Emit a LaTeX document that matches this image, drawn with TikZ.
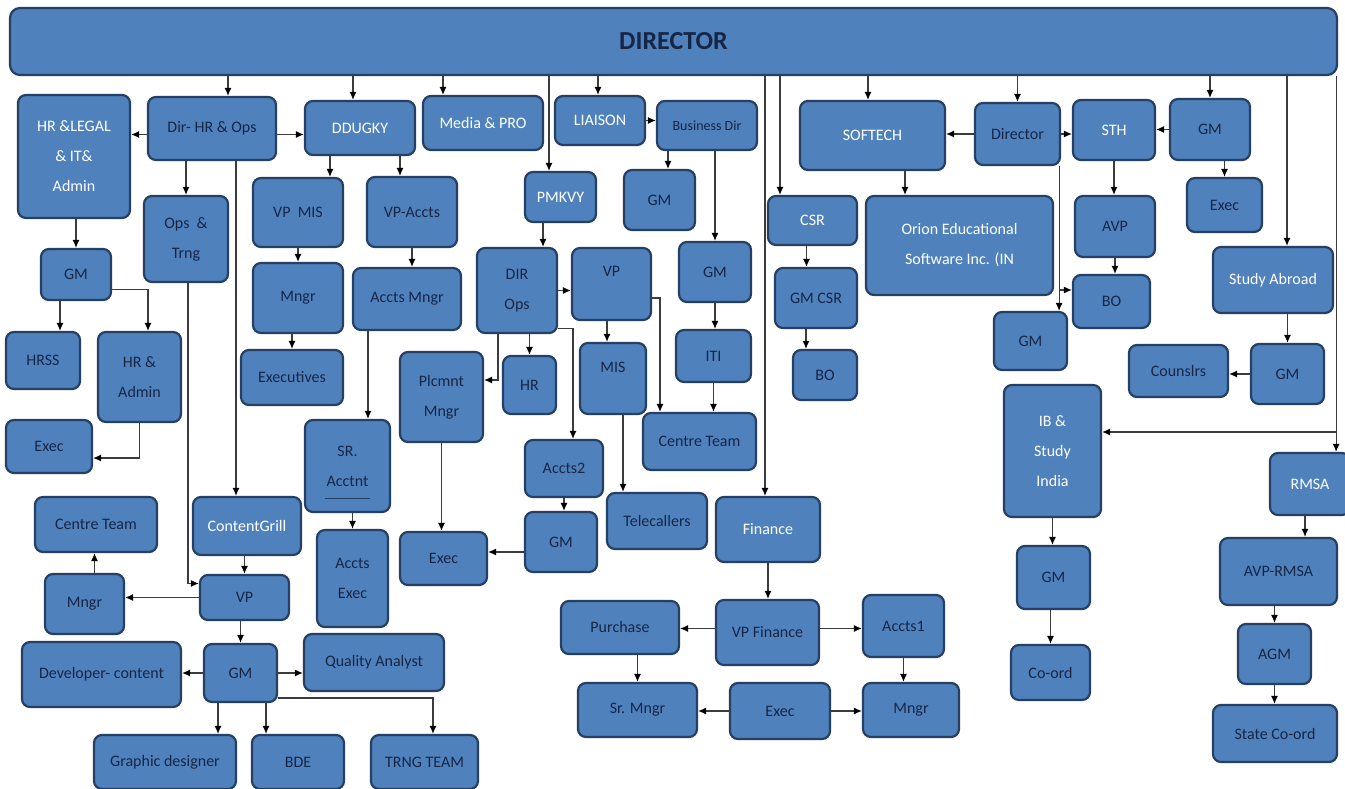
\documentclass[tikz,border=0pt]{standalone}
\usepackage{fontspec}
\setmainfont{Carlito}
\usetikzlibrary{arrows.meta}
\definecolor{boxblue}{RGB}{79,129,189}
\definecolor{boxline}{RGB}{38,64,100}
\definecolor{txtdark}{RGB}{24,38,70}
\definecolor{lnk}{RGB}{60,60,60}

\begin{document}
\begin{tikzpicture}[x=1pt,y=-1pt,
    blk/.style={draw=boxline,line width=2.2pt,fill=boxblue,rounded corners=8pt,inner sep=0pt,
      align=center,text=txtdark,font=\fontsize{16}{30}\selectfont},
    wblk/.style={blk,text=white},
    sz/.style 2 args={minimum width=#1pt,minimum height=#2pt},
    arr/.style={draw=lnk,line width=1.2pt,-{Latex[length=8pt,width=7pt,color=black]}}]
  \useasboundingbox (0,0) rectangle (1345,789);
  \fill[white] (0,0) rectangle (1345,789);

  % top bar
  \node[blk,sz={1327}{67},rounded corners=10pt,font=\bfseries\fontsize{26}{30}\selectfont] (bar) at (673.5,41.5) {DIRECTOR};

  % first row
  \node[wblk,sz={112}{123}] (hrlegal) at (74,156.5) {HR \&LEGAL\\\& IT\&\\Admin};
  \node[blk,sz={128}{63}] (dirhr) at (212,128.5) {Dir- HR \& Ops};
  \node[wblk,sz={110}{54}] (ddugky) at (360,128) {DDUGKY};
  \node[wblk,sz={120}{54}] (media) at (483,123) {Media \& PRO};
  \node[wblk,sz={90}{49}] (liaison) at (600,120.5) {LIAISON};
  \node[blk,sz={100}{49},font=\fontsize{14}{16}\selectfont] (busdir) at (707,125.5) {Business Dir};
  \node[wblk,sz={145}{69}] (softech) at (872.5,135.5) {SOFTECH};
  \node[blk,sz={85}{62}] (director) at (1017.5,134) {Director};
  \node[wblk,sz={82}{60}] (sth) at (1114,130) {STH};
  \node[blk,sz={80}{61}] (gmr) at (1210,129.5) {GM};

  % second row
  \node[blk,sz={84}{86}] (opstrng) at (186,239) {Ops\ \ \&\\Trng};
  \node[blk,sz={90}{69}] (vpmis) at (298,212.5) {VP\ \ MIS};
  \node[blk,sz={90}{70}] (vpaccts) at (412,212) {VP-Accts};
  \node[wblk,sz={71}{50}] (pmkvy) at (560.5,197) {PMKVY};
  \node[blk,sz={71}{60}] (gmbus) at (659.5,200) {GM};
  \node[wblk,sz={89}{49}] (csr) at (812.5,220.5) {CSR};
  \node[wblk,sz={187}{99}] (orion) at (959.5,245.5) {Orion Educational\\Software Inc. (IN};
  \node[blk,sz={80}{61}] (avp) at (1115,226.5) {AVP};
  \node[blk,sz={75}{54}] (execr) at (1224.5,205) {Exec};

  % third row
  \node[blk,sz={70}{51}] (gmhr) at (76,274.5) {GM};
  \node[blk,sz={90}{70}] (mngrmis) at (298,298) {Mngr};
  \node[blk,sz={108}{62}] (acctsmngr) at (407,299) {Accts Mngr};
  \node[blk,sz={80}{85}] (dirops) at (517,290.5) {DIR\\Ops};
  \node[blk,sz={79}{72}] (vpops) at (611.5,284) {VP\\[-4pt]};
  \node[blk,sz={72}{60}] (gmiti) at (715,272) {GM};
  \node[blk,sz={82}{60}] (gmcsr) at (816,298) {GM CSR};
  \node[blk,sz={77}{53}] (bosth) at (1111.5,301.5) {BO};
  \node[wblk,sz={120}{66}] (abroad) at (1273,280) {Study Abroad};
  \node[blk,sz={73}{58}] (gmdir) at (1030.5,341) {GM};

  % fourth row
  \node[blk,sz={74}{57}] (hrss) at (43,360.5) {HRSS};
  \node[blk,sz={83}{90}] (hradmin) at (139.5,377) {HR \&\\Admin};
  \node[blk,sz={102}{55}] (executives) at (292,377.5) {Executives};
  \node[blk,sz={83}{90}] (plcmnt) at (441.5,397) {Plcmnt\\Mngr};
  \node[blk,sz={53}{58}] (hr) at (529.5,385) {HR};
  \node[blk,sz={66}{71}] (mis) at (613,378.5) {MIS\\[-8pt]};
  \node[blk,sz={75}{52}] (iti) at (713.5,356) {ITI};
  \node[blk,sz={64}{50}] (bocsr) at (825,375) {BO};
  \node[blk,sz={99}{52}] (counslrs) at (1178.5,371) {Counslrs};
  \node[blk,sz={73}{60}] (gmabroad) at (1287.5,374) {GM};
  \node[blk,sz={86}{53}] (exechr) at (49,446.5) {Exec};
  \node[blk,sz={85}{92}] (sracct) at (347.5,466) {SR.\\Acctnt};
  \node[blk,sz={113}{57}] (centreops) at (699.5,441.5) {Centre Team};
  \node[blk,sz={78}{57}] (accts2) at (564,468.5) {Accts2};
  \node[blk,sz={100}{56}] (telecallers) at (657,521) {Telecallers};
  \node[wblk,sz={104}{65}] (finance) at (768,529.5) {Finance};
  \node[wblk,sz={97}{132}] (ib) at (1052.5,451) {IB \&\\Study\\India};
  \node[wblk,sz={80}{62}] (rmsa) at (1310,484) {RMSA};

  % lower part
  \node[blk,sz={122}{55}] (centrel) at (96,524.5) {Centre Team};
  \node[wblk,sz={108}{58}] (contentgrill) at (247,526) {ContentGrill};
  \node[blk,sz={71}{97}] (acctsexec) at (352.5,578.5) {Accts\\Exec};
  \node[blk,sz={87}{53}] (execpl) at (443.5,558.5) {Exec};
  \node[blk,sz={72}{60}] (gmaccts) at (561,542) {GM};
  \node[blk,sz={79}{60}] (mngrl) at (84.5,604) {Mngr};
  \node[blk,sz={89}{45}] (vpcg) at (244.5,597.5) {VP};
  \node[blk,sz={159}{65}] (developer) at (101.5,674.5) {Developer- content};
  \node[blk,sz={73}{58}] (gmcg) at (240.5,673) {GM};
  \node[blk,sz={140}{57}] (quality) at (374,662.5) {Quality Analyst};
  \node[blk,sz={142}{54}] (graphic) at (165,762) {Graphic designer};
  \node[blk,sz={92}{54}] (bde) at (298,762) {BDE};
  \node[blk,sz={107}{54}] (trng) at (424.5,762) {TRNG TEAM};
  \node[blk,sz={73}{63}] (gmib) at (1053.5,577.5) {GM};
  \node[blk,sz={79}{55}] (coord) at (1050.5,672.5) {Co-ord};
  \node[blk,sz={117}{67}] (avprmsa) at (1278.5,571.5) {AVP-RMSA};
  \node[blk,sz={73}{60}] (agm) at (1274.5,654) {AGM};
  \node[blk,sz={124}{57}] (statecoord) at (1275,733.5) {State Co-ord};
  \node[blk,sz={118}{53}] (purchase) at (620,627.5) {Purchase};
  \node[blk,sz={103}{65}] (vpfin) at (767.5,632.5) {VP Finance};
  \node[blk,sz={81}{62}] (accts1) at (903.5,626) {Accts1};
  \node[blk,sz={119}{54}] (srmngr) at (637.5,710) {Sr. Mngr};
  \node[blk,sz={100}{56}] (execfin) at (780,711) {Exec};
  \node[blk,sz={96}{54}] (mngrfin) at (911,710) {Mngr};

  \draw[boxline,line width=0.6pt] ([xshift=-23pt,yshift=-32pt]sracct.center) -- ([xshift=22pt,yshift=-32pt]sracct.center);

  % from the top bar
  \draw[arr] ([xshift=16pt]dirhr.north |- bar.south) -- ([xshift=16pt]dirhr.north);
  \draw[arr] ([xshift=-7pt]ddugky.north |- bar.south) -- ([xshift=-7pt]ddugky.north);
  \draw[arr] ([xshift=-40pt]media.north |- bar.south) -- ([xshift=-40pt]media.north);
  \draw[arr] ([xshift=-11.5pt]pmkvy.north |- bar.south) -- ([xshift=-11.5pt]pmkvy.north);
  \draw[arr] ([xshift=-2pt]liaison.north |- bar.south) -- ([xshift=-2pt]liaison.north);
  \draw[arr] ([xshift=-3pt]finance.north |- bar.south) -- ([xshift=-3pt]finance.north);
  \draw[arr] ([xshift=-32.5pt]csr.north |- bar.south) -- ([xshift=-32.5pt]csr.north);
  \draw[arr] ([xshift=-4.5pt]softech.north |- bar.south) -- ([xshift=-4.5pt]softech.north);
  \draw[arr] (director.north |- bar.south) -- (director.north);
  \draw[arr] (gmr.north |- bar.south) -- (gmr.north);
  \draw[arr] ([xshift=14pt]abroad.north |- bar.south) -- ([xshift=14pt]abroad.north);
  \draw[arr] ([xshift=-2pt]bar.south east) -- ([xshift=-2pt]bar.south east |- rmsa.north);
  \draw[arr] ([xshift=-2pt,yshift=19pt]ib.east -| bar.south east) -- ([yshift=19pt]ib.east);

  % HR and content side
  \draw[arr] ([yshift=-6pt]dirhr.west) -- ([yshift=-6pt]dirhr.west -| hrlegal.east);
  \draw[arr] ([yshift=-6pt]dirhr.east) -- ([yshift=-6pt]dirhr.east -| ddugky.west);
  \draw[arr] (opstrng.north |- dirhr.south) -- (opstrng.north);
  \draw[arr] ([xshift=-11pt]contentgrill.north |- dirhr.south) -- ([xshift=-11pt]contentgrill.north);
  \draw[arr] ([xshift=2pt]opstrng.south) |- ([yshift=14pt]vpcg.west);
  \draw[arr] (hrlegal.south -| gmhr.north) -- (gmhr.north);
  \draw[arr] ([xshift=17pt]hrss.north |- gmhr.south) -- ([xshift=17pt]hrss.north);
  \draw[arr] ([yshift=-15pt]gmhr.east) -| ([xshift=8.5pt]hradmin.north);
  \draw[arr] (hradmin.south) |- ([yshift=-11.5pt]exechr.east);
  \draw[arr] ([xshift=32pt]vpmis.north |- ddugky.south) -- ([xshift=32pt]vpmis.north);
  \draw[arr] ([xshift=-12pt]vpaccts.north |- ddugky.south) -- ([xshift=-12pt]vpaccts.north);
  \draw[arr] (vpmis.south) -- (mngrmis.north);
  \draw[arr] (mngrmis.south -| executives.north) -- (executives.north);
  \draw[arr] (vpaccts.south) -- (vpaccts.south |- acctsmngr.north);
  \draw[arr] ([xshift=20.5pt]sracct.north |- acctsmngr.south) -- ([xshift=20.5pt]sracct.north);
  \draw[arr] (sracct.south -| acctsexec.north) -- (acctsexec.north);
  \draw[arr] (contentgrill.south -| vpcg.north) -- (vpcg.north);
  \draw[arr] (vpcg.west) -- (vpcg.west -| mngrl.east);
  \draw[arr] ([xshift=10pt]mngrl.north) -- ([xshift=10pt]mngrl.north |- centrel.south);
  \draw[arr] (vpcg.south -| gmcg.north) -- (gmcg.north);
  \draw[arr] (gmcg.west) -- (gmcg.west -| developer.east);
  \draw[arr] (gmcg.east) -- (gmcg.east -| quality.west);
  \draw[arr] ([xshift=53pt]graphic.north |- gmcg.south) -- ([xshift=53pt]graphic.north);
  \draw[arr] ([xshift=-32pt]bde.north |- gmcg.south) -- ([xshift=-32pt]bde.north);
  \draw[arr] ([yshift=-25pt]gmcg.east) -| ([xshift=8.5pt]trng.north);

  % liaison and pmkvy
  \draw[arr] (liaison.east) -- (liaison.east -| busdir.west);
  \draw[arr] ([xshift=8.5pt]gmbus.north |- busdir.south) -- ([xshift=8.5pt]gmbus.north);
  \draw[arr] (busdir.south -| gmiti.north) -- (gmiti.north);
  \draw[arr] (gmiti.south) -- (gmiti.south |- iti.north);
  \draw[arr] (iti.south) -- (iti.south |- centreops.north);
  \draw[arr] ([xshift=26pt]dirops.north |- pmkvy.south) -- ([xshift=26pt]dirops.north);
  \draw[arr] (dirops.east) -- (dirops.east -| vpops.west);
  \draw[arr] (dirops.south -| hr.north) -- (hr.north);
  \draw[arr] ([xshift=-19pt]dirops.south) |- ([yshift=17pt]plcmnt.east);
  \draw[arr] ([yshift=-38pt]dirops.east) -| ([xshift=9pt]accts2.north);
  \draw[arr] ([xshift=-6pt]mis.north |- vpops.south) -- ([xshift=-6pt]mis.north);
  \draw[arr] ([yshift=-14pt]vpops.east) -| ([xshift=-39.5pt]centreops.north);
  \draw[arr] ([xshift=10pt]mis.south) -- ([xshift=10pt]mis.south |- telecallers.north);
  \draw[arr] (plcmnt.south) -- (plcmnt.south |- execpl.north);
  \draw[arr] (accts2.south) -- (accts2.south |- gmaccts.north);
  \draw[arr] ([yshift=-10pt]gmaccts.west) -- ([yshift=-10pt]gmaccts.west -| execpl.east);

  % finance
  \draw[arr] (finance.south) -- (finance.south |- vpfin.north);
  \draw[arr] ([yshift=4pt]vpfin.west) -- ([yshift=4pt]vpfin.west -| purchase.east);
  \draw[arr] ([yshift=4pt]vpfin.east) -- ([yshift=4pt]vpfin.east -| accts1.west);
  \draw[arr] (purchase.south -| srmngr.north) -- (srmngr.north);
  \draw[arr] (accts1.south) -- (accts1.south |- mngrfin.north);
  \draw[arr] (execfin.west) -- (execfin.west -| srmngr.east);
  \draw[arr] (execfin.east) -- (execfin.east -| mngrfin.west);

  % right side
  \draw[arr] ([xshift=-6pt]csr.south) -- ([xshift=-6pt]csr.south |- gmcsr.north);
  \draw[arr] ([xshift=-10pt]gmcsr.south) -- ([xshift=-10pt]gmcsr.south |- bocsr.north);
  \draw[arr] ([xshift=32.5pt]softech.south) -- ([xshift=32.5pt]softech.south |- orion.north);
  \draw[arr] (director.west) -- (director.west -| softech.east);
  \draw[arr] (director.east) -- (director.east -| sth.west);
  \draw[arr] (gmr.west) -- (gmr.west -| sth.east);
  \draw[arr] (gmr.south -| execr.north) -- (execr.north);
  \draw[arr] (sth.south) -- (sth.south |- avp.north);
  \draw[arr] (avp.south) -- (avp.south |- bosth.north);
  \draw[arr] ([xshift=-2pt]director.south east) -- ([xshift=-2pt]director.south east |- gmdir.north);
  \draw[arr] ([xshift=-2pt,yshift=11.5pt]bosth.west -| director.south east) -- ([yshift=11.5pt]bosth.west);
  \draw[arr] (abroad.south -| gmabroad.north) -- (gmabroad.north);
  \draw[arr] (gmabroad.west) -- (gmabroad.west -| counslrs.east);
  \draw[arr] (ib.south) -- (ib.south |- gmib.north);
  \draw[arr] (gmib.south -| coord.north) -- (coord.north);
  \draw[arr] ([xshift=-5pt]rmsa.south) -- ([xshift=-5pt]rmsa.south |- avprmsa.north);
  \draw[arr] (agm.north |- avprmsa.south) -- (agm.north);
  \draw[arr] (agm.south) -- (agm.south |- statecoord.north);
\end{tikzpicture}
\end{document}
